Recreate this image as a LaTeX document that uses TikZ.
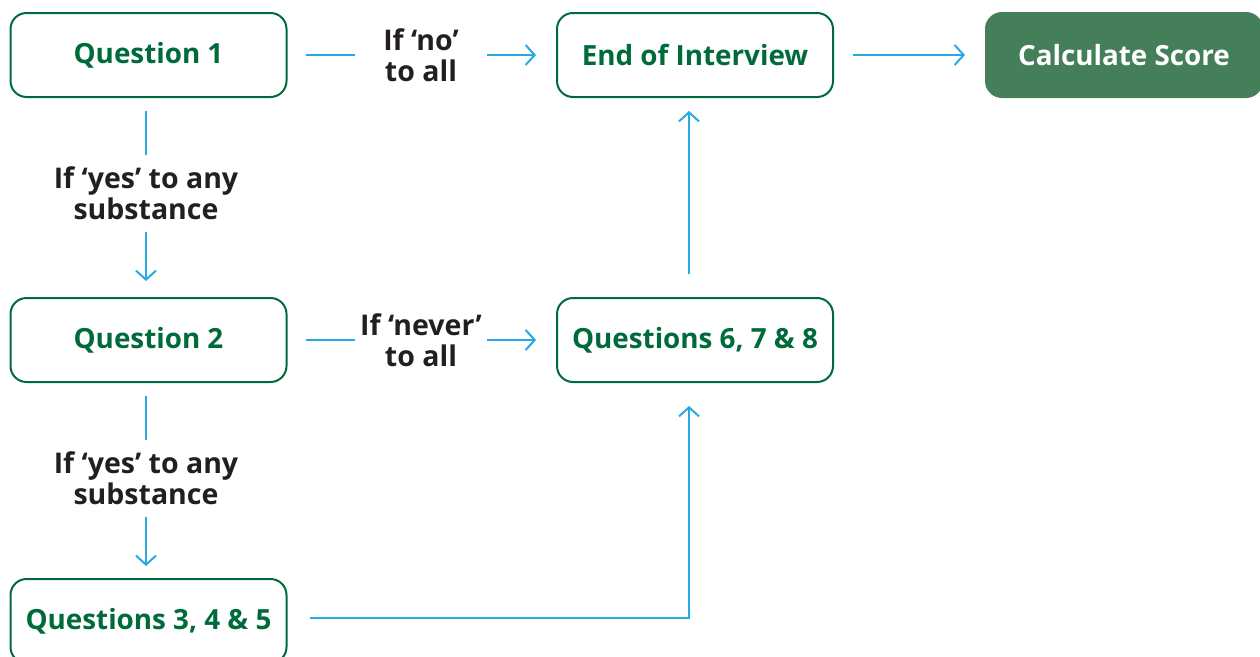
\documentclass[tikz,border=0pt]{standalone}
\usepackage{fontspec}
\setmainfont{Open Sans}
\usetikzlibrary{arrows.meta}
\definecolor{dgreen}{HTML}{006B3A}
\definecolor{fillgreen}{HTML}{457F59}
\definecolor{cyanline}{HTML}{27AAE1}
\definecolor{labelgray}{HTML}{231F20}
\tikzset{
  box/.style={draw=dgreen, line width=2pt, rounded corners=16pt, minimum width=276pt, minimum height=84pt, inner sep=0pt, text=dgreen, font=\fontsize{27.8}{32}\selectfont\bfseries, fill=white},
  filledbox/.style={box, draw=fillgreen, fill=fillgreen, text=white},
  lab/.style={text=labelgray, font=\fontsize{28.5}{31}\selectfont\bfseries, align=center, inner sep=0pt, outer sep=0pt},
  hlab/.style={lab, minimum width=132pt},
  vlab/.style={lab, minimum height=77pt},
  conn/.style={draw=cyanline, line width=2pt},
  arr/.style={conn, -{Straight Barb[length=9pt,width=20pt,line width=2pt]}},
}
\begin{document}
\begin{tikzpicture}[x=1pt,y=-1pt]
\useasboundingbox (0,0) rectangle (1260,656);
\begin{scope}
\clip (0,0) rectangle (1260,656);
\node[box] (q1) at (148.5,55) {Question 1};
\node[box] (end) at (695,55) {End of Interview};
\node[filledbox] (calc) at (1124,55) {Calculate Score};
\node[box] (q2) at (148.5,340) {Question 2};
\node[box] (q678) at (695,340) {Questions 6, 7 \& 8};
\node[box] (q345) at (148.5,621) {Questions 3, 4 \& 5};
\end{scope}
\node[hlab] (l1) at (421,55) {If ‘no’\\to all};
\node[vlab] (l2) at (146,193.5) {If ‘yes’ to any\\substance};
\node[hlab] (l3) at (421,340) {If ‘never’\\to all};
\node[vlab] (l4) at (146,478.5) {If ‘yes’ to any\\substance};
% Q1 -> End
\draw[conn, shorten <=18pt] (q1) -- (l1);
\draw[arr, shorten >=20pt] (l1) -- (end);
% End -> Calc
\draw[arr, shorten <=19pt, shorten >=20pt] (end) -- (calc);
% Q1 -> Q2
\draw[conn, shorten <=13pt] ([xshift=-2.5pt]q1.south) -- (l2.north);
\draw[arr, shorten >=16pt] (l2.south) -- ([xshift=-2.5pt]q2.north);
% Q2 -> Q678
\draw[conn, shorten <=18pt] (q2) -- (l3);
\draw[arr, shorten >=20pt] (l3) -- (q678);
% Q2 -> Q345
\draw[conn, shorten <=13pt] ([xshift=-2.5pt]q2.south) -- (l4.north);
\draw[arr, shorten >=12pt] (l4.south) -- ([xshift=-2.5pt]q345.north);
% Q345 -> Q678
\draw[arr, shorten <=22pt, shorten >=23pt] ([yshift=3pt]q345.east) -| ([xshift=-6pt]q678.south);
% Q678 -> End
\draw[arr, shorten <=23pt, shorten >=13pt] ([xshift=-6pt]q678.north) -- ([xshift=-6pt]end.south);
\end{tikzpicture}
\end{document}
